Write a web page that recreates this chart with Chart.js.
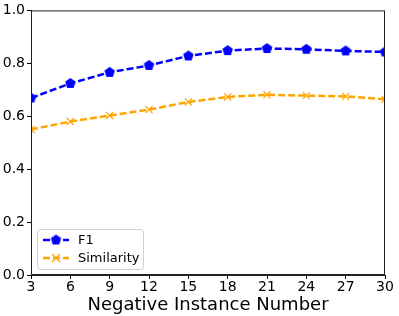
<!DOCTYPE html>
<html>
<head>
<meta charset="utf-8">
<script src="https://cdn.jsdelivr.net/npm/chart.js@4"></script>
<style>
  html, body { margin: 0; padding: 0; background: #fff; }
  #wrap { width: 399px; height: 316px; }
</style>
</head>
<body>
<div id="wrap"><canvas id="lineChart" width="399" height="316"></canvas></div>
<script>
const negatives = [3, 6, 9, 12, 15, 18, 21, 24, 27, 30];
const f1 = [0.669, 0.724, 0.766, 0.792, 0.828, 0.848, 0.856, 0.853, 0.847, 0.843];
const similarity = [0.550, 0.580, 0.603, 0.625, 0.654, 0.673, 0.681, 0.678, 0.675, 0.664];
const yTicks = [0.0, 0.2, 0.4, 0.6, 0.8, 1.0];

// pentagon marker as a small canvas
function pentagon(r, color) {
    const c = document.createElement('canvas');
    c.width = c.height = r * 2 + 2;
    const g = c.getContext('2d');
    g.beginPath();
    for (let i = 0; i < 5; i++) {
        const a = -Math.PI / 2 + i * 2 * Math.PI / 5;
        const px = r + 1 + r * Math.cos(a), py = r + 1 + r * Math.sin(a);
        if (i === 0) g.moveTo(px, py); else g.lineTo(px, py);
    }
    g.closePath();
    g.fillStyle = color;
    g.fill();
    return c;
}
const pentBlue = pentagon(5.5, '#0000ff');

const frame = {
    id: 'frame',
    afterDatasetsDraw(chart) {
        const { ctx, chartArea: a } = chart;
        ctx.save();
        ctx.strokeStyle = '#222';
        ctx.lineWidth = 1;
        ctx.strokeRect(a.left + 0.5, a.top + 0.5, a.right - a.left - 1, a.bottom - a.top - 1);

        // legend inside, bottom-left
        const x0 = a.left + 6, y0 = a.bottom - 46, w = 106, h = 40;
        ctx.fillStyle = 'rgba(255,255,255,0.8)';
        ctx.strokeStyle = '#d0d0d0';
        ctx.beginPath();
        ctx.roundRect(x0 + 0.5, y0 + 0.5, w, h, 3);
        ctx.fill();
        ctx.stroke();
        const rows = [
            { label: 'F1', color: '#0000ff', mark: 'pent', y: y0 + 11 },
            { label: 'Similarity', color: '#ffa500', mark: 'x', y: y0 + 29 }
        ];
        rows.forEach(r => {
            ctx.strokeStyle = r.color;
            ctx.lineWidth = 2.5;
            ctx.setLineDash([7, 3]);
            ctx.beginPath();
            ctx.moveTo(x0 + 6, r.y);
            ctx.lineTo(x0 + 32, r.y);
            ctx.stroke();
            ctx.setLineDash([]);
            if (r.mark === 'pent') {
                ctx.drawImage(pentBlue, x0 + 19 - pentBlue.width / 2, r.y - pentBlue.height / 2);
            } else {
                ctx.lineWidth = 1.2;
                ctx.beginPath();
                ctx.moveTo(x0 + 15, r.y - 4); ctx.lineTo(x0 + 23, r.y + 4);
                ctx.moveTo(x0 + 23, r.y - 4); ctx.lineTo(x0 + 15, r.y + 4);
                ctx.stroke();
            }
            ctx.fillStyle = '#000';
            ctx.font = '13px "DejaVu Sans"';
            ctx.textBaseline = 'middle';
            ctx.fillText(r.label, x0 + 41, r.y + 1);
        });
        ctx.restore();
    }
};

Chart.defaults.font.family = '"DejaVu Sans", sans-serif';
Chart.defaults.color = '#000';

new Chart(document.getElementById('lineChart').getContext('2d'), {
    type: 'line',
    data: {
        datasets: [{
            label: 'F1',
            data: negatives.map((x, i) => ({ x: x, y: f1[i] })),
            borderColor: '#0000ff',
            backgroundColor: '#0000ff',
            borderWidth: 2.5,
            borderDash: [7, 3],
            pointStyle: pentBlue,
            clip: 0
        }, {
            label: 'Similarity',
            data: negatives.map((x, i) => ({ x: x, y: similarity[i] })),
            borderColor: '#ffa500',
            backgroundColor: '#ffa500',
            borderWidth: 2.5,
            borderDash: [7, 3],
            pointStyle: 'crossRot',
            pointRadius: 5,
            pointBorderWidth: 1.2,
            clip: 0
        }]
    },
    options: {
        responsive: false,
        animation: false,
        layout: { padding: { top: 10, right: 14, left: 0, bottom: 0 } },
        plugins: { legend: { display: false }, tooltip: { enabled: false } },
        scales: {
            x: {
                type: 'linear',
                min: 3,
                max: 30,
                afterBuildTicks: (axis) => { axis.ticks = negatives.map(v => ({ value: v })); },
                afterFit: (axis) => { axis.height = 41; },
                ticks: { font: { size: 14 }, padding: 0, maxRotation: 0 },
                grid: { drawOnChartArea: false, tickLength: 4, color: '#000' },
                border: { color: '#222' },
                title: { display: true, text: 'Negative Instance Number', font: { size: 18 }, padding: { top: 0, bottom: 0 } }
            },
            y: {
                min: 0,
                max: 1,
                afterBuildTicks: (axis) => { axis.ticks = yTicks.map(v => ({ value: v })); },
                afterFit: (axis) => { axis.width = 31; },
                ticks: { font: { size: 14 }, padding: 2, callback: v => v.toFixed(1) },
                grid: { drawOnChartArea: false, tickLength: 4, color: '#000' },
                border: { color: '#222' }
            }
        }
    },
    plugins: [frame]
});
</script>
</body>
</html>
